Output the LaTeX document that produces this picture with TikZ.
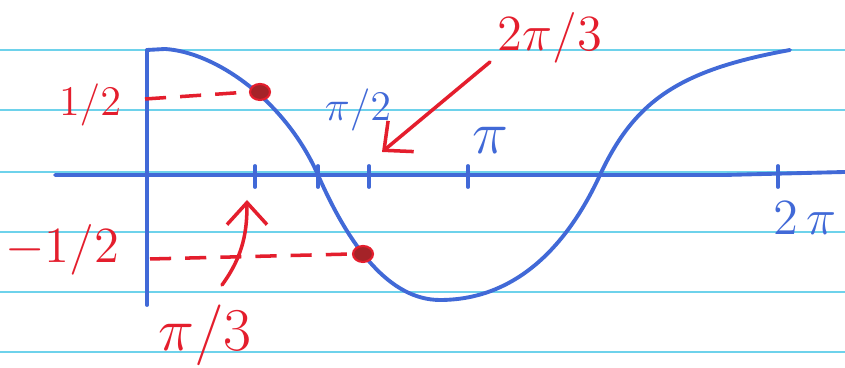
\documentclass[tikz,border=0pt]{standalone}
\usepackage{amsmath}
\usepackage{xcolor}
\usepackage{tikz}
\usetikzlibrary{arrows.meta, positioning, calc, shapes.geometric}

\definecolor{penblue}{RGB}{65,105,215}
\definecolor{penred}{RGB}{228,30,45}
\definecolor{ruling}{RGB}{110,210,235}
\definecolor{blot}{RGB}{165,35,40}

\begin{document}
\begin{tikzpicture}[
    x=0.01cm, y=-0.01cm,
    rule/.style={ruling, line width=0.6pt},
    axis/.style={penblue, line width=1.1pt, line cap=round},
    curve/.style={penblue, line width=1.1pt, line cap=round, line join=round},
    guide/.style={penred, line width=1pt, dash pattern=on 6pt off 4pt},
    pointer/.style={penred, line width=1pt, line cap=round, -{Straight Barb[length=2.2mm, width=4mm]}},
    dot/.style={ellipse, fill=blot, draw=penred, line width=0.6pt, minimum width=0.2cm, minimum height=0.16cm, inner sep=0pt},
    redlabel/.style={text=penred, inner sep=0pt},
    bluelabel/.style={text=penblue, inner sep=0pt}
]
\useasboundingbox (0,0) rectangle (845,368);
\fill[white] (0,0) rectangle (845,368);

% ruled paper
\foreach \ry in {50,110,172,232,292,352}
    \draw[rule] (0,\ry) -- (845,\ry);

% axes
\coordinate (xstart) at (55,175);
\coordinate (xend) at (845,172);
\coordinate (ytop) at (147,50);
\coordinate (ybot) at (147,305);
\draw[axis] (xstart) -- (725,175) -- (xend);
\draw[axis] (ytop) -- (ybot);

% ticks
\foreach \tx in {255,318,369,468,778}
    \draw[axis] (\tx,166) -- (\tx,187);

% cosine curve
\draw[curve] (147,50) -- (165,49)
    .. controls (215,52) and (285,100) .. (318,175)
    .. controls (350,248) and (390,300) .. (440,300)
    .. controls (520,300) and (570,240) .. (600,175)
    .. controls (635,100) and (680,70) .. (790,50);

% points on the curve
\node[dot] (phalf) at (260,92) {};
\node[dot] (mhalf) at (363,254) {};
\coordinate (yhalf) at (145,99);
\coordinate (ymhalf) at (150,259);
\draw[guide] (yhalf) -- (phalf.west);
\draw[guide] (ymhalf) -- (mhalf.west);

% labels
\node[redlabel, font=\large] (lhalf) at (90,105) {$1/2$};
\node[redlabel, font=\Large] (lmhalf) at (62,250) {$-1/2$};
\node[redlabel, font=\LARGE] (lthird) at (205,335) {$\pi/3$};
\node[redlabel, font=\Large] (ltwothird) at (550,38) {$2\pi/3$};
\node[bluelabel, font=\large] (lpihalf) at (358,110) {$\pi/2$};
\node[bluelabel, font=\LARGE] (lpi) at (490,140) {$\pi$};
\node[bluelabel, font=\Large] (ltwopi) at (805,218) {$2\,\pi$};

% arrows
\coordinate (athird) at (222,285);
\coordinate (tthird) at (247,200);
\draw[pointer] (athird) .. controls (244,255) and (247,230) .. (tthird);
\coordinate (atwothird) at (490,62);
\coordinate (ttwothird) at (382,152);
\draw[pointer] (atwothird) -- (ttwothird);

\end{tikzpicture}
\end{document}
